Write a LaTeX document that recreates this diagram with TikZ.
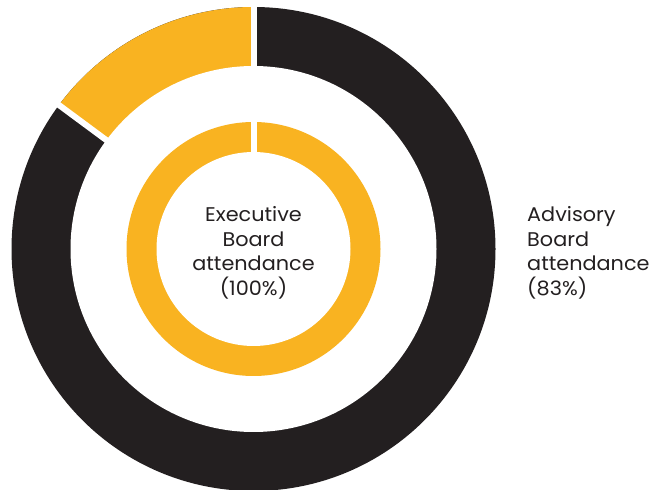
\documentclass[tikz,border=0pt]{standalone}
\usepackage{fontspec}
\setmainfont{Poppins}[FakeStretch=1.05]
\definecolor{ringyellow}{HTML}{F9B321}
\definecolor{ringblack}{HTML}{231F20}
\definecolor{labelgray}{HTML}{231F20}
\tikzset{
  lbl/.style={inner sep=0pt, text=labelgray, font=\fontsize{19.8}{24.8}\selectfont},
  gapline/.style={white, line width=6pt}
}
\begin{document}
\begin{tikzpicture}[x=1pt,y=1pt]
\useasboundingbox (0,0) rectangle (659,490);
\coordinate (c) at (253.5,241);
% outer ring
\fill[ringblack] (c) circle[radius=242];
\fill[ringyellow] (c) -- ++(90:242) arc[start angle=90, end angle=143.5, radius=242] -- cycle;
\fill[white] (c) circle[radius=183];
\draw[gapline] ([shift={(90:178)}]c) -- ([shift={(90:248)}]c);
\draw[gapline] ([shift={(143.5:178)}]c) -- ([shift={(143.5:248)}]c);
% inner ring
\fill[ringyellow] (c) circle[radius=127];
\fill[white] (c) circle[radius=97];
\draw[gapline] ([shift={(90:92)}]c) -- ([shift={(90:132)}]c);
% labels
\node[lbl, align=center, anchor=north] (exec) at (253.5,284) {Executive\\Board\\attendance\\(100\%)};
\node[lbl, align=left, anchor=north west] (adv) at (527,284) {Advisory\\Board\\attendance\\(83\%)};
\end{tikzpicture}
\end{document}
